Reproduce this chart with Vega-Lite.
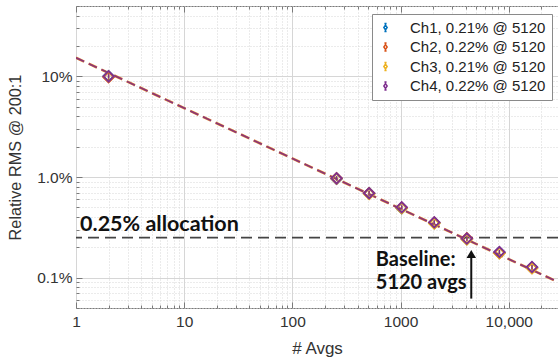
{
  "$schema": "https://vega.github.io/schema/vega-lite/v6.json",
  "width": 482,
  "height": 302,
  "autosize": {"type": "none"},
  "padding": {"left": 76, "top": 6, "right": 0, "bottom": 51},
  "background": "white",
  "config": {
    "view": {"stroke": "#7a7a7a", "strokeWidth": 1},
    "font": "Liberation Sans",
    "axis": {"labelFont": "Liberation Sans", "titleFont": "Liberation Sans", "labelColor": "#333333", "titleColor": "#333333", "domainColor": "#7a7a7a", "tickColor": "#7a7a7a", "titleFontWeight": "normal"}
  },
  "datasets": {
    "pts": [
      {"ch": "Ch1, 0.21% @ 5120", "n": 2, "rms": 0.1005, "lo": 0.095, "hi": 0.106},
      {"ch": "Ch1, 0.21% @ 5120", "n": 256, "rms": 0.0096, "lo": 0.0091, "hi": 0.0101},
      {"ch": "Ch1, 0.21% @ 5120", "n": 512, "rms": 0.0069, "lo": 0.0065, "hi": 0.0073},
      {"ch": "Ch1, 0.21% @ 5120", "n": 1024, "rms": 0.0049, "lo": 0.00465, "hi": 0.00515},
      {"ch": "Ch1, 0.21% @ 5120", "n": 2048, "rms": 0.0035, "lo": 0.0033, "hi": 0.0037},
      {"ch": "Ch1, 0.21% @ 5120", "n": 4096, "rms": 0.00242, "lo": 0.0023, "hi": 0.00255},
      {"ch": "Ch1, 0.21% @ 5120", "n": 8192, "rms": 0.00178, "lo": 0.00168, "hi": 0.00188},
      {"ch": "Ch1, 0.21% @ 5120", "n": 16384, "rms": 0.00126, "lo": 0.00119, "hi": 0.00133},
      {"ch": "Ch2, 0.22% @ 5120", "n": 2, "rms": 0.098, "lo": 0.092, "hi": 0.104},
      {"ch": "Ch2, 0.22% @ 5120", "n": 256, "rms": 0.0097, "lo": 0.0092, "hi": 0.0102},
      {"ch": "Ch2, 0.22% @ 5120", "n": 512, "rms": 0.0069, "lo": 0.0065, "hi": 0.0073},
      {"ch": "Ch2, 0.22% @ 5120", "n": 1024, "rms": 0.00495, "lo": 0.0047, "hi": 0.0052},
      {"ch": "Ch2, 0.22% @ 5120", "n": 2048, "rms": 0.00352, "lo": 0.00333, "hi": 0.00371},
      {"ch": "Ch2, 0.22% @ 5120", "n": 4096, "rms": 0.00246, "lo": 0.00233, "hi": 0.00259},
      {"ch": "Ch2, 0.22% @ 5120", "n": 8192, "rms": 0.00176, "lo": 0.00167, "hi": 0.00186},
      {"ch": "Ch2, 0.22% @ 5120", "n": 16384, "rms": 0.00125, "lo": 0.00118, "hi": 0.00132},
      {"ch": "Ch3, 0.21% @ 5120", "n": 2, "rms": 0.0995, "lo": 0.094, "hi": 0.105},
      {"ch": "Ch3, 0.21% @ 5120", "n": 256, "rms": 0.0096, "lo": 0.0091, "hi": 0.0101},
      {"ch": "Ch3, 0.21% @ 5120", "n": 512, "rms": 0.0068, "lo": 0.0064, "hi": 0.0072},
      {"ch": "Ch3, 0.21% @ 5120", "n": 1024, "rms": 0.0049, "lo": 0.00465, "hi": 0.00515},
      {"ch": "Ch3, 0.21% @ 5120", "n": 2048, "rms": 0.00345, "lo": 0.00327, "hi": 0.00363},
      {"ch": "Ch3, 0.21% @ 5120", "n": 4096, "rms": 0.0024, "lo": 0.00228, "hi": 0.00252},
      {"ch": "Ch3, 0.21% @ 5120", "n": 8192, "rms": 0.00175, "lo": 0.00166, "hi": 0.00184},
      {"ch": "Ch3, 0.21% @ 5120", "n": 16384, "rms": 0.00124, "lo": 0.00117, "hi": 0.00131},
      {"ch": "Ch4, 0.22% @ 5120", "n": 2, "rms": 0.1, "lo": 0.095, "hi": 0.105},
      {"ch": "Ch4, 0.22% @ 5120", "n": 256, "rms": 0.0097, "lo": 0.0092, "hi": 0.0102},
      {"ch": "Ch4, 0.22% @ 5120", "n": 512, "rms": 0.0069, "lo": 0.0065, "hi": 0.0073},
      {"ch": "Ch4, 0.22% @ 5120", "n": 1024, "rms": 0.005, "lo": 0.00475, "hi": 0.00525},
      {"ch": "Ch4, 0.22% @ 5120", "n": 2048, "rms": 0.00355, "lo": 0.00337, "hi": 0.00373},
      {"ch": "Ch4, 0.22% @ 5120", "n": 4096, "rms": 0.00245, "lo": 0.00233, "hi": 0.00257},
      {"ch": "Ch4, 0.22% @ 5120", "n": 8192, "rms": 0.0018, "lo": 0.00171, "hi": 0.00189},
      {"ch": "Ch4, 0.22% @ 5120", "n": 16384, "rms": 0.00128, "lo": 0.00121, "hi": 0.00135}
    ],
    "fit": [
      {"n": 1, "rms": 0.153},
      {"n": 28500, "rms": 0.000906}
    ],
    "level": [
      {"rms": 0.0025}
    ],
    "note1": [
      {"label": "0.25% allocation", "n": 1.09, "rms": 0.00294}
    ],
    "note2": [
      {"label": "Baseline:", "n": 590, "rms": 0.00132},
      {"label": "5120 avgs", "n": 590, "rms": 0.00078}
    ],
    "arrow": [
      {"n": 4500, "lo": 0.00062, "hi": 0.0017, "tip": 0.00172}
    ]
  },
  "resolve": {"axis": {"x": "independent"}},
  "layer": [
    {
      "data": {"name": "fit"},
      "mark": {"type": "line", "color": "#E08A3A", "strokeWidth": 2.6, "strokeDash": [9, 5], "clip": true},
      "encoding": {
        "x": {"field": "n", "type": "quantitative",
          "scale": {"type": "log", "domain": [1, 28500], "nice": false},
          "axis": {
            "orient": "bottom", "title": "# Avgs", "titleFontSize": 17, "titlePadding": 8,
            "values": [1,2,3,4,5,6,7,8,9,10,20,30,40,50,60,70,80,90,100,200,300,400,500,600,700,800,900,1000,2000,3000,4000,5000,6000,7000,8000,9000,10000,20000],
            "labelExpr": "datum.value == 1 ? '1' : datum.value == 10 ? '10' : datum.value == 100 ? '100' : datum.value == 1000 ? '1000' : datum.value == 10000 ? '10,000' : ''",
            "labelFontSize": 15.5, "labelPadding": 12, "labelFlush": false, "labelOverlap": false,
            "domain": false,
            "tickSize": {"condition": {"test": "indexof([1,10,100,1000,10000], datum.value) >= 0", "value": -6}, "value": -3},
            "grid": true,
            "gridColor": "#d6d6d6",
            "gridDash": {"condition": {"test": "indexof([1,10,100,1000,10000], datum.value) >= 0", "value": []}, "value": [1, 2]}
          }
        },
        "y": {"field": "rms", "type": "quantitative",
          "scale": {"type": "log", "domain": [0.0005, 0.5], "nice": false},
          "axis": {
            "title": "Relative RMS @ 200:1", "titleFontSize": 16.3, "titlePadding": 13,
            "values": [0.0005,0.0006,0.0007,0.0008,0.0009,0.001,0.002,0.003,0.004,0.005,0.006,0.007,0.008,0.009,0.01,0.02,0.03,0.04,0.05,0.06,0.07,0.08,0.09,0.1,0.2,0.3,0.4,0.5],
            "labelExpr": "datum.value == 0.1 ? '10%' : datum.value == 0.01 ? '1.0%' : datum.value == 0.001 ? '0.1%' : ''",
            "labelFontSize": 15.5, "labelPadding": 10, "labelFlush": false, "labelOverlap": false,
            "domain": false,
            "tickSize": {"condition": {"test": "indexof([0.001,0.01,0.1], datum.value) >= 0", "value": -6}, "value": -3},
            "grid": true,
            "gridColor": "#d6d6d6",
            "gridDash": {"condition": {"test": "indexof([0.001,0.01,0.1], datum.value) >= 0", "value": []}, "value": [1, 2]}
          }
        }
      }
    },
    {
      "data": {"name": "fit"},
      "mark": {"type": "line", "color": "#8A3478", "strokeWidth": 1.6, "strokeDash": [9, 5], "clip": true},
      "encoding": {
        "x": {"field": "n", "type": "quantitative",
          "axis": {"orient": "top", "title": null, "labels": false, "domain": false, "grid": false,
            "values": [1,2,3,4,5,6,7,8,9,10,20,30,40,50,60,70,80,90,100,200,300,400,500,600,700,800,900,1000,2000,3000,4000,5000,6000,7000,8000,9000,10000,20000],
            "tickSize": {"condition": {"test": "indexof([1,10,100,1000,10000], datum.value) >= 0", "value": -6}, "value": -3}
          }
        },
        "y": {"field": "rms", "type": "quantitative"}
      }
    },
    {
      "data": {"name": "level"},
      "mark": {"type": "rule", "color": "#444444", "strokeWidth": 1.6, "strokeDash": [11, 6]},
      "encoding": {"y": {"field": "rms", "type": "quantitative"}}
    },
    {
      "data": {"name": "pts"},
      "mark": {"type": "rule", "strokeWidth": 1.3},
      "encoding": {
        "x": {"field": "n", "type": "quantitative", "axis": null},
        "y": {"field": "lo", "type": "quantitative"},
        "y2": {"field": "hi"},
        "color": {"field": "ch", "type": "nominal"}
      }
    },
    {
      "data": {"name": "pts"},
      "mark": {"type": "point", "shape": "diamond", "filled": false, "strokeWidth": 1.8, "size": 110, "opacity": 1},
      "encoding": {
        "x": {"field": "n", "type": "quantitative", "axis": null},
        "y": {"field": "rms", "type": "quantitative"},
        "color": {"field": "ch", "type": "nominal",
          "scale": {"domain": ["Ch1, 0.21% @ 5120", "Ch2, 0.22% @ 5120", "Ch3, 0.21% @ 5120", "Ch4, 0.22% @ 5120"], "range": ["#0072BD", "#D95319", "#EDB120", "#7E2F8E"]},
          "legend": {
            "title": null, "orient": "none", "legendX": 296, "legendY": 8,
            "fillColor": "white", "strokeColor": "#8a8a8a", "padding": 6,
            "labelFont": "Liberation Sans", "labelFontSize": 15, "labelColor": "#222222", "labelOffset": 17,
            "rowPadding": 3.5,
            "symbolType": "M0,-0.55L0.38,0L0,0.55L-0.38,0Z M0,-0.9L0,-0.55 M0,0.55L0,0.9 M-0.25,-0.9L0.25,-0.9 M-0.25,0.9L0.25,0.9",
            "symbolSize": 75, "symbolStrokeWidth": 1.5, "symbolFillColor": "transparent"
          }
        },
        "order": {"field": "ch", "sort": "ascending"}
      }
    },
    {
      "data": {"name": "arrow"},
      "mark": {"type": "rule", "color": "#111111", "strokeWidth": 2},
      "encoding": {
        "x": {"field": "n", "type": "quantitative", "axis": null},
        "y": {"field": "lo", "type": "quantitative"},
        "y2": {"field": "hi"}
      }
    },
    {
      "data": {"name": "arrow"},
      "mark": {"type": "point", "shape": "triangle-up", "filled": true, "color": "#111111", "size": 90, "opacity": 1},
      "encoding": {
        "x": {"field": "n", "type": "quantitative", "axis": null},
        "y": {"field": "tip", "type": "quantitative"}
      }
    },
    {
      "data": {"name": "note1"},
      "mark": {"type": "text", "align": "left", "baseline": "alphabetic", "font": "Lato", "fontWeight": "bold", "fontSize": 21.5, "color": "#111111"},
      "encoding": {
        "x": {"field": "n", "type": "quantitative", "axis": null},
        "y": {"field": "rms", "type": "quantitative"},
        "text": {"field": "label"}
      }
    },
    {
      "data": {"name": "note2"},
      "mark": {"type": "text", "align": "left", "baseline": "alphabetic", "font": "Lato", "fontWeight": "bold", "fontSize": 20, "color": "#111111"},
      "encoding": {
        "x": {"field": "n", "type": "quantitative", "axis": null},
        "y": {"field": "rms", "type": "quantitative"},
        "text": {"field": "label"}
      }
    }
  ]
}
